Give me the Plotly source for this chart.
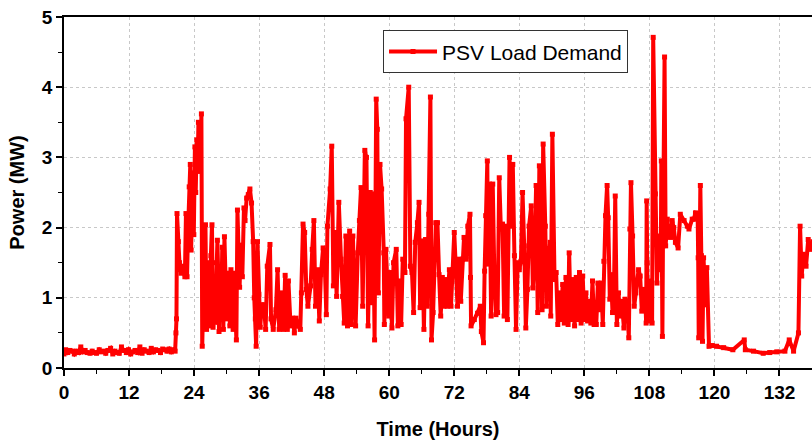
import plotly.graph_objects as go

hours = [
    0.0, 0.3, 0.7, 1.1, 1.5, 1.9, 2.3, 2.7, 3.1, 3.5, 3.9, 4.3, 4.8, 5.2, 5.6, 6.0, 6.5, 6.9, 7.3, 7.7,
    8.1, 8.6, 9.0, 9.4, 9.8, 10.2, 10.6, 11.0, 11.5, 11.9, 12.3, 12.7, 13.1, 13.6, 14.0, 14.4, 14.8, 15.2,
    15.7, 16.1, 16.5, 16.9, 17.3, 17.8, 18.2, 18.6, 19.0, 19.4, 19.8, 20.2,
    20.5, 20.65, 20.75, 20.85, 21.1, 21.3, 21.6, 21.9, 22.1, 22.3, 22.5, 22.7, 22.9, 23.1, 23.3, 23.45,
    23.6, 23.8, 23.95, 24.15, 24.3, 24.5, 24.65, 24.8, 24.95, 25.15, 25.35, 25.5, 25.7, 25.9, 26.1, 26.3,
    26.5, 26.7, 26.9, 27.1, 27.3, 27.5, 27.7, 27.9, 28.1, 28.3, 28.45, 28.6, 28.8, 29.0, 29.2, 29.4, 29.6,
    29.8, 30.0, 30.2, 30.4, 30.6, 30.8, 31.0, 31.2, 31.4, 31.6, 31.8, 32.0, 32.2, 32.4, 32.6, 32.9, 33.2,
    33.4, 33.7, 34.0, 34.3, 34.6, 34.9, 35.1, 35.3, 35.45, 35.7, 35.95, 36.2, 36.5,
    36.9, 37.2, 37.5, 38.0, 38.2, 38.6, 39.1, 39.4, 39.7, 40.2, 40.5, 40.8, 41.2, 41.4, 41.8, 42.2, 42.5,
    42.8, 43.2, 43.6, 43.8, 44.1, 44.4, 44.7, 45.0, 45.5, 45.8, 46.1, 46.4, 46.8, 47.1, 47.4, 47.8, 48.1,
    48.4, 48.6, 49.1, 49.4, 49.7, 50.0, 50.3, 50.7, 51.1, 51.4, 51.7, 52.0, 52.3, 52.7, 53.0, 53.3, 53.6,
    53.8, 54.2, 54.5, 54.8, 55.1,
    55.5, 55.8, 56.1, 56.5, 56.8, 57.0, 57.3, 57.6, 57.8, 58.0, 58.3, 58.6, 59.0, 59.1, 59.4, 59.9, 60.2,
    60.5, 60.8, 61.3, 61.6, 61.9, 62.2, 62.5, 62.9, 63.1, 63.6, 63.9, 64.2, 64.5, 64.8, 65.2, 65.5, 65.7,
    66.1, 66.4, 66.7, 67.0, 67.3, 67.6, 67.8, 68.1, 68.6, 68.9, 69.2, 69.5, 69.8, 70.1, 70.4, 70.7, 71.1,
    71.4, 71.7, 72.0,
    72.6, 72.9, 73.2, 73.5, 73.8, 74.2, 74.5, 74.9, 75.0, 75.1, 75.7, 76.3, 76.8, 77.0, 77.4, 77.6, 77.8,
    78.1, 78.2, 78.5, 78.8, 79.1, 79.4, 79.7, 80.0, 80.3, 80.6, 80.9, 81.2, 81.5, 81.8, 82.2, 82.5, 82.8,
    83.1, 83.4, 83.7, 84.0, 84.3, 84.6, 84.9, 85.2, 85.5, 85.8, 86.2, 86.5, 86.8, 87.1, 87.4, 87.7, 88.0,
    88.2, 88.4, 88.8, 89.0, 89.4, 89.7, 89.8, 90.1,
    90.5, 90.8, 91.1, 91.4, 91.7, 92.0, 92.3, 92.6, 93.0, 93.2, 93.5, 93.8, 94.2, 94.5, 94.8, 95.1, 95.4,
    95.7, 96.0, 96.3, 96.6, 96.9, 97.2, 97.5, 97.8, 98.2, 98.5, 98.8, 99.1, 99.4, 99.6, 99.9, 100.2,
    100.4, 100.7, 100.9, 101.2, 101.5, 101.7, 102.0, 102.3, 102.6, 102.9, 103.3, 103.5, 103.9, 104.2,
    104.4, 104.6, 104.9, 105.2, 105.5, 106.0, 106.3, 106.6,
    106.9, 107.2, 107.4, 107.5, 107.6, 107.7, 107.9, 108.2, 108.5, 108.7, 109.1, 109.4, 109.7, 110.1,
    110.2, 110.4, 110.5, 110.8, 111.0, 111.3, 111.6, 111.9, 112.2, 112.5, 112.8, 113.3, 113.7, 114.4,
    115.0, 115.3, 115.9, 116.2, 116.5,
    116.9, 117.0, 117.1, 117.4, 117.6, 117.8, 118.0, 118.3, 118.6, 119.0, 119.6, 120.4, 121.7, 123.4,
    125.5, 125.7, 127.2, 129.0, 130.2, 131.5, 133.0, 133.8, 134.6, 135.5, 135.8, 136.1, 136.4, 136.9,
    137.3, 137.8, 138.2,
]

power_mw = [
    0.20, 0.26, 0.22, 0.25, 0.24, 0.20, 0.24, 0.22, 0.30, 0.23, 0.25, 0.22, 0.21, 0.24, 0.22, 0.21, 0.26,
    0.23, 0.24, 0.21, 0.25, 0.28, 0.20, 0.24, 0.22, 0.21, 0.30, 0.25, 0.22, 0.26, 0.20, 0.23, 0.25, 0.22,
    0.30, 0.21, 0.26, 0.24, 0.22, 0.28, 0.23, 0.26, 0.25, 0.22, 0.27, 0.26, 0.24, 0.27, 0.23, 0.26,
    0.24, 0.50, 0.70, 2.20, 1.80, 1.50, 1.35, 1.45, 1.40, 1.30, 2.20, 1.30, 2.00, 2.58, 2.90, 1.68,
    2.00, 2.78, 1.90, 3.15, 2.50, 3.25, 2.80, 3.50, 3.10, 2.90, 3.62, 0.31, 1.00, 1.60, 2.04, 0.55,
    1.50, 1.15, 0.60, 1.60, 2.04, 0.58, 1.30, 0.65, 1.50, 1.82, 1.35, 0.52, 1.20, 0.80, 1.72, 0.55, 1.87,
    1.10, 0.70, 0.95, 1.35, 0.60, 1.40, 0.80, 0.55, 1.35, 0.60, 0.40, 2.25, 1.60, 1.15, 1.75, 1.30, 2.28,
    2.10, 2.42, 2.47, 2.55, 2.35, 1.80, 1.00, 0.70, 0.31, 1.80, 1.05, 0.58, 0.90,
    0.90, 0.55, 1.45, 1.76, 0.70, 0.55, 0.83, 1.40, 0.55, 1.07, 0.55, 1.32, 0.55, 1.24, 0.60, 0.71, 0.50,
    0.71, 0.60, 0.55, 1.07, 2.05, 1.93, 1.12, 0.88, 1.17, 1.69, 2.10, 0.88, 1.40, 0.67, 1.33, 1.71, 1.50,
    0.76, 2.02, 2.55, 3.16, 1.17, 1.93, 1.02, 2.36, 1.55, 1.02, 0.64, 1.88, 0.60, 1.95, 0.62, 1.88, 1.26,
    0.60, 1.64, 2.10, 2.57, 0.88,
    3.10, 3.00, 0.60, 2.50, 0.93, 2.48, 0.40, 3.83, 3.40, 1.07, 2.90, 2.55, 1.64, 0.62, 1.69, 0.74, 1.36,
    0.57, 1.50, 1.69, 0.60, 1.24, 0.62, 1.55, 1.36, 3.55, 4.00, 1.45, 1.36, 0.79, 1.79, 2.07, 2.36, 0.86,
    1.81, 0.55, 1.83, 0.88, 2.19, 3.86, 0.40, 0.79, 2.07, 2.07, 1.33, 0.74, 1.29, 0.88, 1.26, 0.88, 1.40,
    0.88, 1.40, 1.93,
    0.88, 1.55, 0.95, 1.55, 1.86, 1.55, 2.02, 2.19, 1.29, 0.60, 0.69, 0.78, 0.88, 0.52, 0.36, 1.38, 2.17,
    2.95, 1.48, 2.62, 0.74, 2.62, 1.31, 0.76, 0.79, 2.71, 1.98, 2.05, 0.74, 2.02, 0.69, 3.00, 2.02, 2.90,
    1.60, 0.55, 1.50, 1.40, 1.52, 2.50, 1.74, 0.57, 1.12, 2.02, 2.31, 1.14, 1.55, 2.60, 0.79, 2.88, 2.02,
    0.83, 3.19, 2.02, 0.88, 1.62, 1.79, 0.74, 3.33,
    1.26, 1.36, 0.62, 1.07, 0.69, 1.19, 0.64, 1.29, 0.62, 1.64, 0.69, 1.26, 0.60, 1.29, 0.69, 1.36, 0.64,
    1.31, 0.69, 1.07, 0.67, 0.95, 0.64, 1.24, 0.62, 0.62, 1.21, 0.83, 1.21, 0.62, 1.52, 2.17, 2.60,
    2.14, 0.98, 1.33, 0.79, 1.31, 2.45, 0.62, 1.07, 0.74, 0.95, 0.57, 0.98, 0.95, 0.43,
    1.98, 2.64, 1.88, 0.88, 1.07, 1.40, 1.31, 0.81,
    1.12, 1.10, 0.64, 2.38, 1.50, 0.67, 1.24, 1.17, 0.64, 4.71, 2.48, 1.21, 1.88, 1.40,
    2.95, 0.45, 1.74, 4.43, 1.74, 2.12, 1.88, 1.86, 2.10, 2.00, 1.79, 1.71, 2.19, 2.10,
    2.02, 1.98, 2.12, 2.12, 2.21,
    2.20, 1.57, 0.43, 2.60, 1.60, 0.38, 1.57, 0.90, 1.43, 0.31, 0.32, 0.31, 0.29, 0.26,
    0.40, 0.26, 0.24, 0.21, 0.22, 0.23, 0.24, 0.40, 0.24, 0.50, 2.02, 1.31, 1.62, 1.45,
    1.83, 1.69, 1.80,
]

x_ticks = [0, 12, 24, 36, 48, 60, 72, 84, 96, 108, 120, 132]
y_ticks = [0, 1, 2, 3, 4, 5]
series_name = "PSV Load Demand"

fig = go.Figure()
fig.add_trace(go.Scatter(
    x=hours, y=power_mw, mode="lines+markers", name=series_name,
    line=dict(color="#ff0000", width=4),
    marker=dict(symbol="square", size=5, color="#ff0000"),
))

font_family = "Liberation Sans, Arial, sans-serif"

fig.update_layout(
    width=812, height=446,
    margin=dict(l=64, r=0, t=17, b=78),
    plot_bgcolor="white", paper_bgcolor="white",
    font=dict(family=font_family, color="black"),
    showlegend=True,
    legend=dict(
        x=0.4265, y=0.962, xanchor="left", yanchor="top",
        bgcolor="white", bordercolor="#333333", borderwidth=1,
        font=dict(size=21, family=font_family, color="black"),
        itemwidth=48,
    ),
)

fig.update_xaxes(
    range=[0, 138.0],
    tickvals=x_ticks, ticktext=[str(v) for v in x_ticks],
    ticks="outside", ticklen=6, tickwidth=1.5, tickcolor="black",
    minor=dict(dtick=6, tick0=0, ticks="outside", ticklen=4, tickwidth=1.2, tickcolor="black", showgrid=False),
    showline=True, linecolor="black", linewidth=1.5, mirror=True,
    showgrid=True, gridcolor="#c8c8c8", griddash="dot", gridwidth=1,
    zeroline=False,
    tickfont=dict(size=19, family=font_family, color="black", weight="bold"),
    title=dict(text="<b>Time (Hours)</b>", font=dict(size=20, family=font_family, color="black"), standoff=20),
)

fig.update_yaxes(
    range=[0, 5],
    tickvals=y_ticks, ticktext=[str(v) for v in y_ticks],
    ticks="outside", ticklen=6, tickwidth=1.5, tickcolor="black",
    minor=dict(dtick=0.5, tick0=0, ticks="outside", ticklen=4, tickwidth=1.2, tickcolor="black", showgrid=False),
    showline=True, linecolor="black", linewidth=1.5, mirror=False,
    showgrid=True, gridcolor="#c8c8c8", griddash="dot", gridwidth=1,
    zeroline=False,
    tickfont=dict(size=19, family=font_family, color="black", weight="bold"),
    title=dict(text="<b>Power (MW)</b>", font=dict(size=20, family=font_family, color="black"), standoff=12),
)

fig.write_html("out.html")
